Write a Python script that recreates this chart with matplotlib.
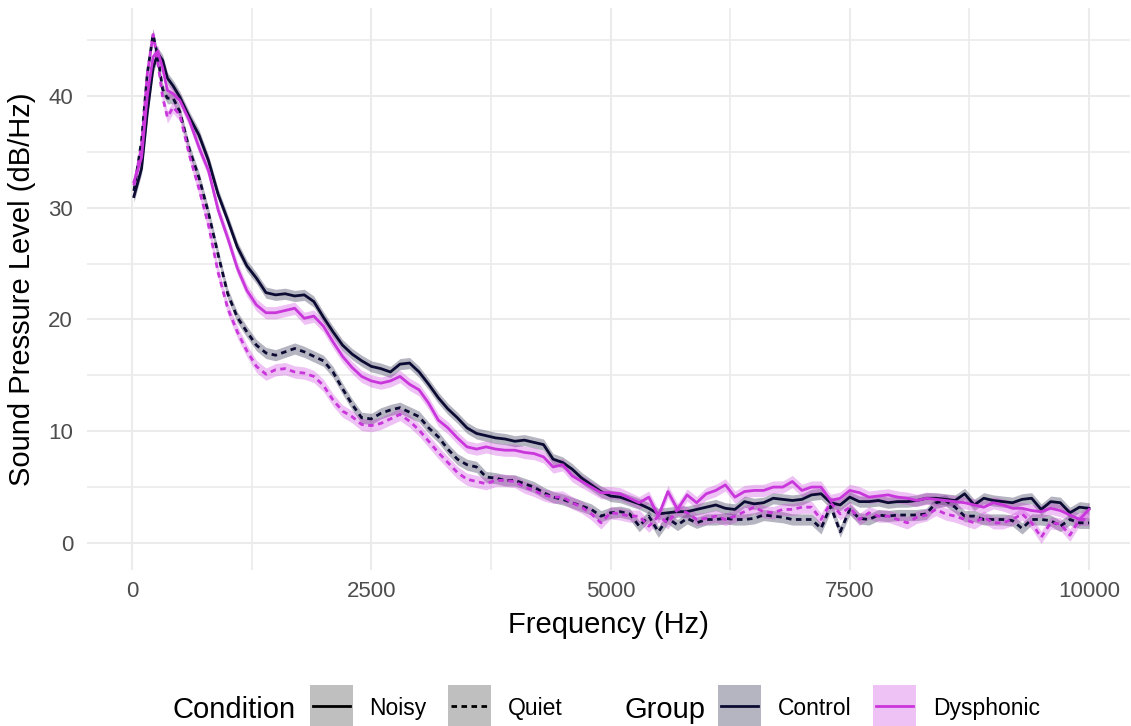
import matplotlib
matplotlib.use('Agg')
import matplotlib.pyplot as plt
import numpy as np
from matplotlib.lines import Line2D
from matplotlib.patches import Rectangle

plt.rcParams['font.family'] = ['Liberation Sans', 'DejaVu Sans']

# ---------------- data ----------------
FREQ = [20, 100, 160, 220, 270, 320, 370, 430, 500,
        600, 700, 800, 900, 1000,
        1100, 1200, 1300, 1400, 1500, 1600, 1700, 1800, 1900, 2000,
        2100, 2200, 2300, 2400, 2500, 2600, 2700, 2800, 2900, 3000,
        3100, 3200, 3300, 3400, 3500, 3600, 3700, 3800, 3900, 4000,
        4100, 4200, 4300, 4400, 4500, 4600, 4700, 4800, 4900, 5000,
        5100, 5200, 5300, 5400, 5500, 5600, 5700, 5800, 5900, 6000,
        6100, 6200, 6300, 6400, 6500, 6600, 6700, 6800, 6900, 7000,
        7100, 7200, 7300, 7400, 7500, 7600, 7700, 7800, 7900, 8000,
        8100, 8200, 8300, 8400, 8500, 8600, 8700, 8800, 8900, 9000,
        9100, 9200, 9300, 9400, 9500, 9600, 9700, 9800, 9900, 10000]

NOISY_CONTROL = [31.0, 33.5, 38.5, 42.5, 43.8, 43.2, 41.6, 40.9, 39.9,
                 38.1, 36.5, 34.2, 31.2, 28.9,
                 26.5, 24.8, 23.7, 22.4, 22.2, 22.3, 22.1, 22.2, 21.6, 20.2,
                 18.9, 17.7, 16.9, 16.3, 15.8, 15.6, 15.3, 16.0, 16.1, 15.3,
                 14.2, 13.0, 12.0, 11.2, 10.3, 9.8, 9.6, 9.4, 9.3, 9.1,
                 9.2, 9.0, 8.8, 7.5, 7.2, 6.6, 5.8, 5.2, 4.6, 4.2,
                 4.1, 3.8, 3.5, 3.1, 2.6, 2.7, 2.8, 2.8, 3.0, 3.2,
                 3.4, 3.1, 3.0, 3.7, 3.5, 3.6, 4.0, 3.9, 3.8, 3.9,
                 4.3, 4.4, 3.6, 3.4, 4.1, 3.7, 3.7, 3.8, 3.6, 3.7,
                 3.7, 3.8, 4.0, 4.0, 3.9, 3.8, 4.4, 3.4, 4.0, 3.8,
                 3.7, 3.6, 3.9, 4.0, 3.0, 3.7, 3.6, 2.7, 3.2, 3.1]

NOISY_DYSPHONIC = [32.3, 34.5, 40.0, 43.5, 44.0, 42.5, 40.5, 40.2, 39.6,
                   37.8, 35.4, 33.3, 29.8, 27.3,
                   24.6, 22.6, 21.3, 20.6, 20.6, 20.8, 21.0, 20.1, 20.3, 19.4,
                   18.0, 16.7, 15.7, 14.9, 14.5, 14.3, 14.5, 14.9, 14.2, 13.7,
                   12.5, 11.0, 10.3, 9.4, 8.6, 8.4, 8.6, 8.4, 8.3, 8.3,
                   8.1, 8.0, 7.7, 6.8, 7.0, 6.0, 5.5, 5.0, 4.5, 4.5,
                   4.4, 4.0, 3.6, 4.1, 2.4, 4.6, 3.0, 4.3, 3.6, 4.4,
                   4.7, 5.2, 4.1, 4.6, 4.7, 4.7, 5.0, 5.0, 5.5, 4.7,
                   5.0, 5.0, 3.8, 4.0, 4.7, 4.5, 4.1, 4.2, 4.3, 4.1,
                   4.0, 3.8, 4.0, 3.9, 3.8, 3.7, 3.6, 3.4, 3.2, 3.6,
                   3.4, 3.1, 3.1, 2.9, 2.8, 3.1, 2.9, 2.5, 2.1, 3.0]

QUIET_CONTROL = [31.5, 36.0, 42.0, 45.5, 43.5, 40.6, 39.8, 39.8, 38.6,
                 35.2, 32.7, 29.5, 25.8, 22.3,
                 20.2, 18.9, 17.7, 17.0, 16.8, 17.1, 17.4, 17.1, 16.7, 16.3,
                 15.3, 13.8, 12.4, 11.2, 11.1, 11.6, 11.9, 12.1, 11.7, 11.3,
                 10.3, 9.5, 8.4, 7.5, 7.0, 6.8, 5.9, 5.8, 5.6, 5.6,
                 5.3, 5.0, 4.5, 4.1, 3.9, 3.6, 3.3, 3.0, 2.4, 2.7,
                 2.8, 2.6, 1.5, 2.4, 1.0, 2.2, 1.6, 2.2, 1.8, 2.1,
                 2.1, 2.2, 2.1, 2.1, 2.2, 2.5, 2.4, 2.3, 2.1, 2.1,
                 2.1, 1.3, 3.3, 1.0, 3.0, 2.2, 2.1, 2.5, 2.4, 2.5,
                 2.5, 2.5, 2.6, 3.6, 3.8, 3.2, 2.4, 2.4, 2.1, 2.1,
                 2.1, 2.0, 1.3, 2.1, 2.1, 2.0, 1.5, 2.1, 1.8, 1.8]

QUIET_DYSPHONIC = [32.0, 35.5, 42.0, 45.5, 43.0, 39.9, 38.1, 39.0, 38.3,
                   34.7, 31.7, 28.4, 24.2, 21.0,
                   18.9, 17.2, 15.8, 15.1, 15.5, 15.6, 15.3, 15.2, 14.9, 14.1,
                   12.8, 11.8, 11.3, 10.6, 10.5, 10.7, 11.1, 11.5, 10.9, 10.1,
                   9.1, 8.1, 7.2, 6.3, 5.7, 5.5, 5.3, 5.6, 5.6, 5.5,
                   5.0, 4.7, 4.3, 4.1, 4.1, 3.6, 3.2, 2.6, 1.8, 2.7,
                   2.6, 2.4, 2.4, 1.5, 2.4, 1.8, 3.0, 2.7, 2.1, 2.2,
                   2.4, 2.1, 2.4, 2.8, 3.2, 2.8, 2.7, 3.0, 3.0, 3.2,
                   3.2, 2.1, 3.6, 2.6, 3.2, 2.1, 2.7, 2.4, 2.4, 2.1,
                   1.8, 2.3, 2.5, 3.0, 2.6, 2.4, 2.1, 1.8, 2.3, 1.8,
                   1.8, 2.1, 2.6, 1.8, 0.5, 1.8, 1.7, 0.7, 2.1, 2.1]

# ribbon half-widths (dB) per series
CI_HALF = {'Control': 0.5, 'Dysphonic': 0.55}

CONDITIONS = ['Noisy', 'Quiet']
GROUPS = ['Control', 'Dysphonic']
X_TICKS = [0, 2500, 5000, 7500, 10000]
Y_TICKS = [0, 10, 20, 30, 40]

# ---------------- style ----------------
GROUP_COLORS = {'Control': '#0c0b33', 'Dysphonic': '#c936db'}
COND_STYLES = {'Noisy': '-', 'Quiet': (0, (2.0, 1.6))}

W, H = 1131, 726
fig = plt.figure(figsize=(W / 100, H / 100), dpi=100)
ax = fig.add_axes([87 / W, 1 - 570 / H, (1130 - 87) / W, (570 - 8) / H])

freq = np.array(FREQ, dtype=float)
series = [
    ('Noisy', 'Control', NOISY_CONTROL),
    ('Quiet', 'Control', QUIET_CONTROL),
    ('Noisy', 'Dysphonic', NOISY_DYSPHONIC),
    ('Quiet', 'Dysphonic', QUIET_DYSPHONIC),
]

for cond, grp, vals in series:
    v = np.array(vals)
    h = CI_HALF[grp]
    ax.fill_between(freq, v - h, v + h, color=GROUP_COLORS[grp], alpha=0.3,
                    lw=0, zorder=2)
for cond, grp, vals in series:
    ax.plot(freq, vals, color=GROUP_COLORS[grp], lw=2.0,
            linestyle=COND_STYLES[cond], zorder=3,
            solid_joinstyle='round', dash_capstyle='butt')

ax.set_xlim(-470, 10428)
ax.set_ylim(-2.42, 47.87)
ax.set_xticks(X_TICKS)
ax.set_xticklabels([str(t) for t in X_TICKS])
ax.set_yticks(Y_TICKS)
ax.set_yticklabels([str(t) for t in Y_TICKS])
ax.set_xticks([1250, 3750, 6250, 8750], minor=True)
ax.set_yticks([5, 15, 25, 35, 45], minor=True)
ax.grid(which='major', color='#EBEBEB', lw=1.5)
ax.grid(which='minor', color='#EBEBEB', lw=1.2)
ax.set_axisbelow(True)
for s in ax.spines.values():
    s.set_visible(False)
ax.tick_params(which='both', length=0)
ax.tick_params(axis='x', labelsize=16, labelcolor='#4D4D4D', pad=8)
ax.tick_params(axis='y', labelsize=16, labelcolor='#4D4D4D', pad=10)

ax.set_xlabel('Frequency (Hz)', fontsize=21, color='black')
ax.xaxis.set_label_coords(0.5, (570 - 625) / 562)
ax.xaxis.label.set_va('center')
ax.set_ylabel('Sound Pressure Level (dB/Hz)', fontsize=21, color='black')
ax.yaxis.set_label_coords((22.5 - 87) / 1043, 0.5)
ax.yaxis.label.set_va('center')

# ---------------- legend (drawn in figure pixels) ----------------
def fx(x):
    return x / W

def fy(y):
    return 1 - y / H

tr = fig.transFigure

def key(x0, fill, alpha, color, ls):
    fig.add_artist(Rectangle((fx(x0), fy(726)), 43 / W, 41 / H, transform=tr,
                             facecolor=fill, alpha=alpha, edgecolor='none'))
    fig.add_artist(Line2D([fx(x0 + 3), fx(x0 + 40)], [fy(706), fy(706)],
                          transform=tr, color=color, lw=2.0, linestyle=ls))

fig.text(fx(172), fy(718), 'Condition', fontsize=21, va='baseline', ha='left')
key(310, '#bfbfbf', 1.0, 'black', COND_STYLES['Noisy'])
fig.text(fx(369), fy(715), CONDITIONS[0], fontsize=16.5, va='baseline', ha='left')
key(448, '#bfbfbf', 1.0, 'black', COND_STYLES['Quiet'])
fig.text(fx(508), fy(715), CONDITIONS[1], fontsize=16.5, va='baseline', ha='left')

fig.text(fx(625), fy(718), 'Group', fontsize=21, va='baseline', ha='left')
key(718, GROUP_COLORS['Control'], 0.3, GROUP_COLORS['Control'], '-')
fig.text(fx(778), fy(715), GROUPS[0], fontsize=16.5, va='baseline', ha='left')
key(873, GROUP_COLORS['Dysphonic'], 0.3, GROUP_COLORS['Dysphonic'], '-')
fig.text(fx(933), fy(715), GROUPS[1], fontsize=16.5, va='baseline', ha='left')

fig.savefig('out.png', dpi=100)
